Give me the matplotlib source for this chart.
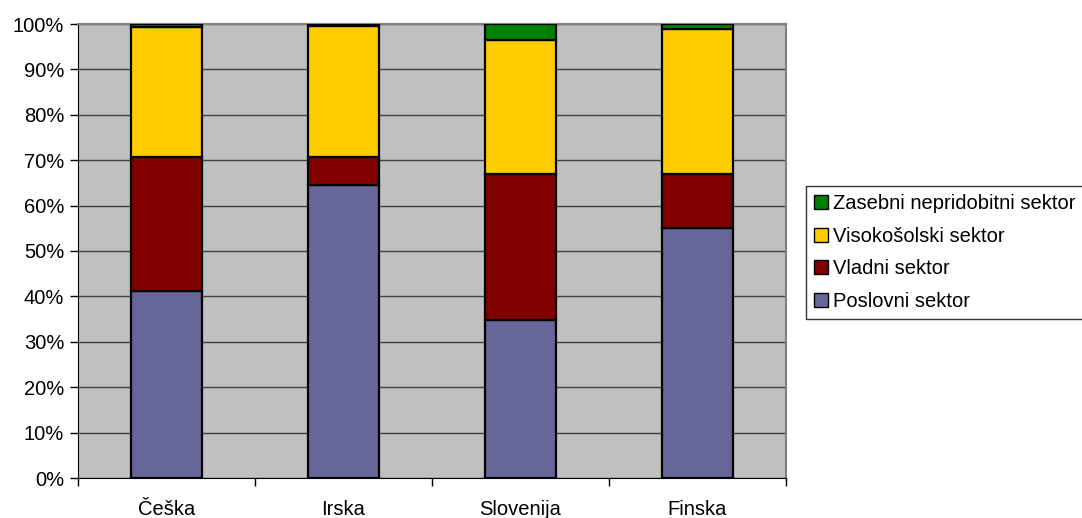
import matplotlib
matplotlib.use("Agg")
import matplotlib.pyplot as plt
import numpy as np
from matplotlib.ticker import FuncFormatter, FixedLocator

countries = ["Češka", "Irska", "Slovenija", "Finska"]
poslovni = [41.2, 64.6, 34.8, 55.1]
vladni = [29.5, 6.1, 32.2, 11.9]
visokosolski = [28.7, 28.9, 29.4, 31.9]
zasebni = [0.6, 0.4, 3.6, 1.1]

series = [
    ("Poslovni sektor", poslovni, "#666699"),
    ("Vladni sektor", vladni, "#800000"),
    ("Visokošolski sektor", visokosolski, "#FFCC00"),
    ("Zasebni nepridobitni sektor", zasebni, "#008000"),
]

plt.rcParams["font.family"] = ["Liberation Sans", "DejaVu Sans"]
FS = 14.5

fig = plt.figure(figsize=(10.82, 5.18), dpi=100)
ax = fig.add_axes([78 / 1082, 1 - 478 / 518, 708 / 1082, 454 / 518])
ax.set_facecolor("#C0C0C0")

x = np.arange(len(countries))
bottom = np.zeros(len(countries))
handles = []
for name, vals, color in series:
    vals = np.array(vals, dtype=float)
    b = ax.bar(x, vals, width=0.4, bottom=bottom, color=color,
               edgecolor="black", linewidth=1.6, label=name, zorder=3)
    handles.append(b)
    bottom += vals

ax.set_xlim(-0.5, len(countries) - 0.5)
ax.set_ylim(0, 100)
ax.yaxis.set_major_locator(FixedLocator(np.arange(0, 101, 10)))
ax.yaxis.set_major_formatter(FuncFormatter(lambda v, p: f"{int(v)}%"))
ax.grid(axis="y", color="#404040", linewidth=1.0, zorder=1)

ax.set_xticks(x)
ax.set_xticklabels(countries)
ax.xaxis.set_minor_locator(FixedLocator(np.arange(-0.5, len(countries), 1.0)))
ax.tick_params(axis="x", which="major", length=0, pad=16, labelsize=FS)
ax.tick_params(axis="x", which="minor", length=6, width=1, direction="out", color="black")
ax.tick_params(axis="y", length=6, width=1, direction="out", labelsize=FS, pad=4)

for side in ("top", "right"):
    ax.spines[side].set_color("#808080")
    ax.spines[side].set_linewidth(1.5)
ax.spines["left"].set_color("black")
ax.spines["bottom"].set_color("black")

leg = fig.legend(handles[::-1], [s[0] for s in series][::-1],
                 loc="upper left", bbox_to_anchor=(806 / 1082, 1 - 186 / 518),
                 frameon=True, fancybox=False, edgecolor="black",
                 fontsize=FS, handlelength=0.7, handleheight=0.7,
                 handletextpad=0.25, borderpad=0.4, labelspacing=0.68,
                 borderaxespad=0)
leg.get_frame().set_linewidth(1.0)
for h in leg.legend_handles:
    h.set_linewidth(1.0)

fig.savefig("out.png", dpi=100)
